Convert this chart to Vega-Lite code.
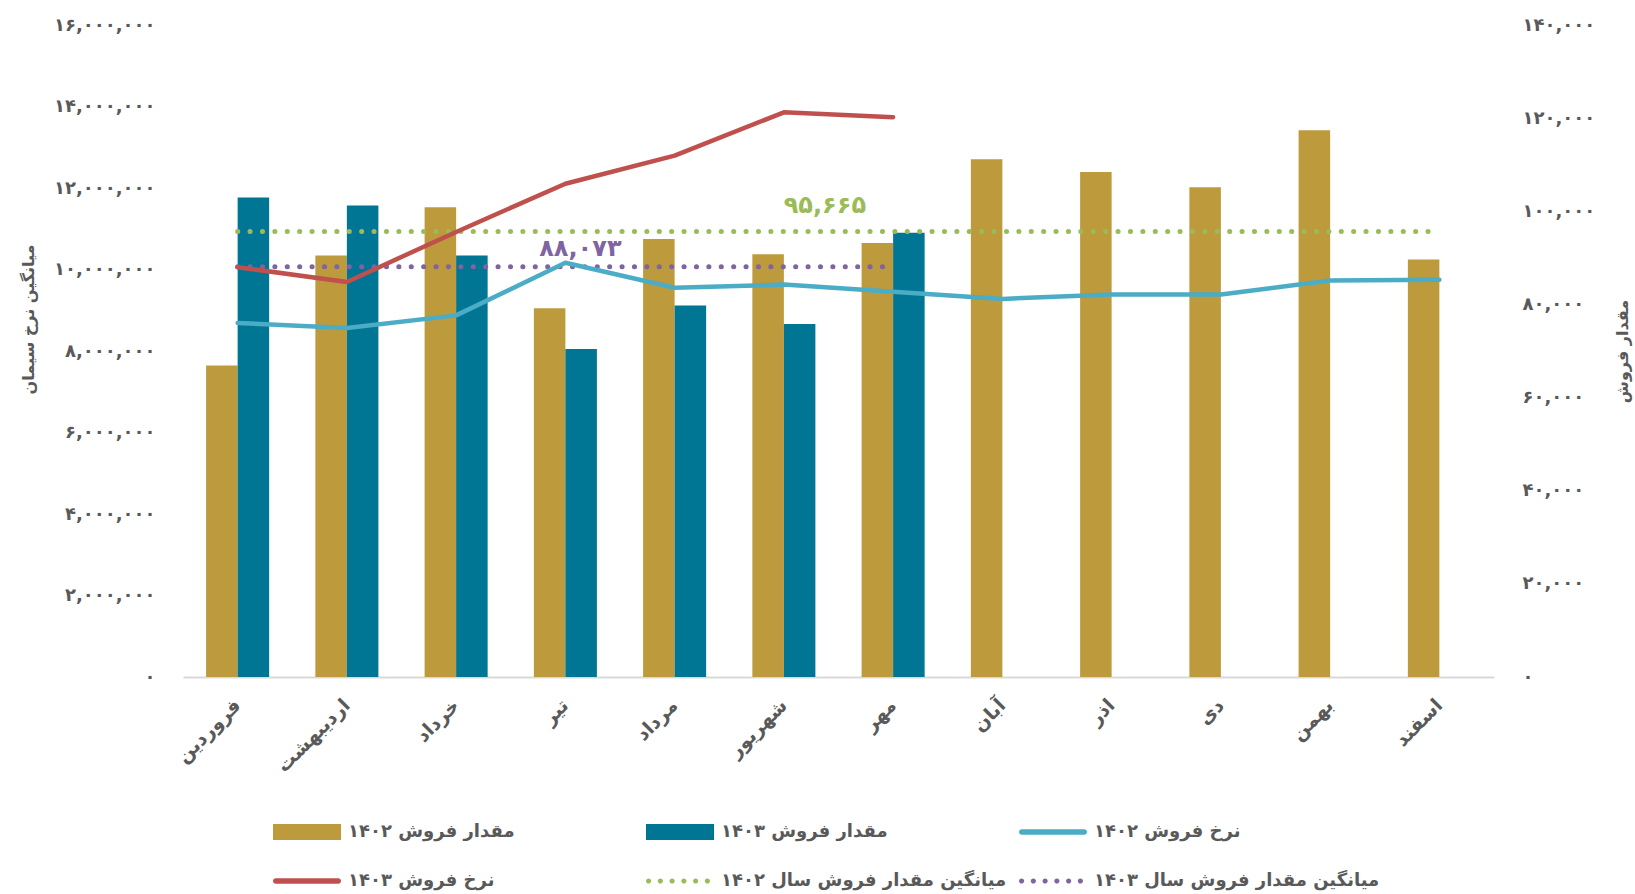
{
  "$schema": "https://vega.github.io/schema/vega-lite/v6.json",
  "width": 1311,
  "height": 652,
  "autosize": {"type": "none"},
  "padding": {"left": 183, "top": 25, "right": 141, "bottom": 217},
  "background": "#ffffff",
  "config": {
    "locale": {"number": {"decimal": ".", "thousands": ",", "grouping": [3], "currency": ["", ""], "numerals": ["۰","۱","۲","۳","۴","۵","۶","۷","۸","۹"]}},
    "view": {"stroke": null},
    "font": "DejaVu Sans",
    "axis": {"labelFont": "DejaVu Sans", "titleFont": "DejaVu Sans", "labelColor": "#595959", "titleColor": "#595959", "grid": false, "ticks": false, "domain": false, "labelFontWeight": "bold", "titleFontWeight": "bold"}
  },
  "datasets": {
    "qty": [
      {"month": "فروردین", "series": "مقدار فروش ۱۴۰۲", "value": 66908},
      {"month": "اردیبهشت", "series": "مقدار فروش ۱۴۰۲", "value": 90489},
      {"month": "خرداد", "series": "مقدار فروش ۱۴۰۲", "value": 100842},
      {"month": "تیر", "series": "مقدار فروش ۱۴۰۲", "value": 79178},
      {"month": "مرداد", "series": "مقدار فروش ۱۴۰۲", "value": 94036},
      {"month": "شهریور", "series": "مقدار فروش ۱۴۰۲", "value": 90777},
      {"month": "مهر", "series": "مقدار فروش ۱۴۰۲", "value": 93173},
      {"month": "آبان", "series": "مقدار فروش ۱۴۰۲", "value": 111194},
      {"month": "اذر", "series": "مقدار فروش ۱۴۰۲", "value": 108414},
      {"month": "دی", "series": "مقدار فروش ۱۴۰۲", "value": 105155},
      {"month": "بهمن", "series": "مقدار فروش ۱۴۰۲", "value": 117425},
      {"month": "اسفند", "series": "مقدار فروش ۱۴۰۲", "value": 89626},
      {"month": "فروردین", "series": "مقدار فروش ۱۴۰۳", "value": 102950},
      {"month": "اردیبهشت", "series": "مقدار فروش ۱۴۰۳", "value": 101225},
      {"month": "خرداد", "series": "مقدار فروش ۱۴۰۳", "value": 90489},
      {"month": "تیر", "series": "مقدار فروش ۱۴۰۳", "value": 70455},
      {"month": "مرداد", "series": "مقدار فروش ۱۴۰۳", "value": 79753},
      {"month": "شهریور", "series": "مقدار فروش ۱۴۰۳", "value": 75823},
      {"month": "مهر", "series": "مقدار فروش ۱۴۰۳", "value": 95378}
    ],
    "rate": [
      {"month": "فروردین", "series": "نرخ فروش ۱۴۰۲", "value": 8687000},
      {"month": "اردیبهشت", "series": "نرخ فروش ۱۴۰۲", "value": 8567000},
      {"month": "خرداد", "series": "نرخ فروش ۱۴۰۲", "value": 8874000},
      {"month": "تیر", "series": "نرخ فروش ۱۴۰۲", "value": 10166000},
      {"month": "مرداد", "series": "نرخ فروش ۱۴۰۲", "value": 9553000},
      {"month": "شهریور", "series": "نرخ فروش ۱۴۰۲", "value": 9629000},
      {"month": "مهر", "series": "نرخ فروش ۱۴۰۲", "value": 9454000},
      {"month": "آبان", "series": "نرخ فروش ۱۴۰۲", "value": 9279000},
      {"month": "اذر", "series": "نرخ فروش ۱۴۰۲", "value": 9388000},
      {"month": "دی", "series": "نرخ فروش ۱۴۰۲", "value": 9388000},
      {"month": "بهمن", "series": "نرخ فروش ۱۴۰۲", "value": 9728000},
      {"month": "اسفند", "series": "نرخ فروش ۱۴۰۲", "value": 9750000},
      {"month": "فروردین", "series": "نرخ فروش ۱۴۰۳", "value": 10057000},
      {"month": "اردیبهشت", "series": "نرخ فروش ۱۴۰۳", "value": 9695000},
      {"month": "خرداد", "series": "نرخ فروش ۱۴۰۳", "value": 10922000},
      {"month": "تیر", "series": "نرخ فروش ۱۴۰۳", "value": 12105000},
      {"month": "مرداد", "series": "نرخ فروش ۱۴۰۳", "value": 12795000},
      {"month": "شهریور", "series": "نرخ فروش ۱۴۰۳", "value": 13858000},
      {"month": "مهر", "series": "نرخ فروش ۱۴۰۳", "value": 13738000}
    ],
    "avg": [
      {"month": "فروردین", "series": "میانگین مقدار فروش سال ۱۴۰۲", "value": 95665},
      {"month": "اسفند", "series": "میانگین مقدار فروش سال ۱۴۰۲", "value": 95665},
      {"month": "فروردین", "series": "میانگین مقدار فروش سال ۱۴۰۳", "value": 88073},
      {"month": "مهر", "series": "میانگین مقدار فروش سال ۱۴۰۳", "value": 88073}
    ]
  },
  "layer": [
    {
      "data": {"name": "qty"},
      "mark": {"type": "bar"},
      "encoding": {
        "x": {"field": "month", "type": "nominal", "sort": ["فروردین","اردیبهشت","خرداد","تیر","مرداد","شهریور","مهر","آبان","اذر","دی","بهمن","اسفند"], "scale": {"paddingInner": 0.423, "paddingOuter": 0.2115},
          "axis": {"title": null, "labelAngle": -45, "labelAlign": "right", "labelBaseline": "middle", "labelPadding": 25, "labelFontSize": 19, "labelLimit": 300, "domain": true, "domainColor": "#D9D9D9", "domainWidth": 2}},
        "xOffset": {"field": "series", "type": "nominal", "sort": ["مقدار فروش ۱۴۰۲", "مقدار فروش ۱۴۰۳"], "scale": {"domain": ["مقدار فروش ۱۴۰۲", "مقدار فروش ۱۴۰۳"], "paddingInner": 0, "paddingOuter": 0}},
        "y": {"field": "value", "type": "quantitative", "scale": {"domain": [0, 140000], "nice": false},
          "axis": {"orient": "right", "title": "مقدار فروش", "values": [0, 20000, 40000, 60000, 80000, 100000, 120000, 140000], "format": ",.0f", "labelFontSize": 18, "labelPadding": 28, "titleFontSize": 16, "titleAngle": -90, "titleBaseline": "top", "titlePadding": 20}},
        "color": {"field": "series", "type": "nominal",
          "scale": {"domain": ["مقدار فروش ۱۴۰۲", "مقدار فروش ۱۴۰۳", "نرخ فروش ۱۴۰۲", "نرخ فروش ۱۴۰۳", "میانگین مقدار فروش سال ۱۴۰۲", "میانگین مقدار فروش سال ۱۴۰۳"], "range": ["#BD9A3B", "#007594", "#4BACC6", "#C0504D", "#9BBB59", "#8064A2"]},
          "legend": {"title": null, "orient": "none", "legendX": 90, "legendY": 797, "direction": "horizontal", "columns": 3, "gridAlign": "all", "symbolSize": 400, "labelFont": "DejaVu Sans", "labelFontSize": 18, "labelFontWeight": "bold", "labelColor": "#595959", "labelOffset": 55, "rowPadding": 30, "columnPadding": 12, "labelLimit": 500,
            "encode": {"symbols": {"update": {
              "shape": {"signal": "datum.index < 2 ? 'M-1,-0.8H5.8V0.8H-1Z' : (datum.index < 4 ? 'M-0.73,-0.27H5.53A0.27,0.27 0 0,1 5.53,0.27H-0.73A0.27,0.27 0 0,1 -0.73,-0.27Z' : 'M-1,0A0.26,0.26 0 1,0 -0.48,0A0.26,0.26 0 1,0 -1,0ZM0.176,0A0.26,0.26 0 1,0 0.696,0A0.26,0.26 0 1,0 0.176,0ZM1.352,0A0.26,0.26 0 1,0 1.872,0A0.26,0.26 0 1,0 1.352,0ZM2.528,0A0.26,0.26 0 1,0 3.048,0A0.26,0.26 0 1,0 2.528,0ZM3.704,0A0.26,0.26 0 1,0 4.224,0A0.26,0.26 0 1,0 3.704,0ZM4.88,0A0.26,0.26 0 1,0 5.4,0A0.26,0.26 0 1,0 4.88,0Z')"},
              "fill": {"scale": "color", "field": "value"},
              "stroke": {"value": "transparent"},
              "strokeWidth": {"value": 0},
              "opacity": {"value": 1}
            }}}}}
      }
    },
    {
      "data": {"name": "avg"},
      "mark": {"type": "line", "strokeWidth": 5, "strokeCap": "round", "strokeDash": [0.1, 12.3]},
      "encoding": {
        "x": {"field": "month", "type": "nominal", "sort": ["فروردین","اردیبهشت","خرداد","تیر","مرداد","شهریور","مهر","آبان","اذر","دی","بهمن","اسفند"],
          "axis": {"title": null, "labelAngle": -45, "labelAlign": "right", "labelBaseline": "middle", "labelPadding": 25, "labelFontSize": 19, "labelLimit": 300, "domain": true, "domainColor": "#D9D9D9", "domainWidth": 2}},
        "y": {"field": "value", "type": "quantitative", "scale": {"domain": [0, 140000], "nice": false}, "axis": null},
        "color": {"field": "series", "type": "nominal"}
      }
    },
    {
      "data": {"values": [{"month": "تیر", "value": 88073}]},
      "mark": {"type": "text", "color": "#8064A2", "fontSize": 24, "fontWeight": "bold", "font": "DejaVu Sans", "dx": 15, "dy": -18},
      "encoding": {
        "x": {"field": "month", "type": "nominal", "sort": ["فروردین","اردیبهشت","خرداد","تیر","مرداد","شهریور","مهر","آبان","اذر","دی","بهمن","اسفند"],
          "axis": {"title": null, "labelAngle": -45, "labelAlign": "right", "labelBaseline": "middle", "labelPadding": 25, "labelFontSize": 19, "labelLimit": 300, "domain": true, "domainColor": "#D9D9D9", "domainWidth": 2}},
        "y": {"field": "value", "type": "quantitative", "scale": {"domain": [0, 140000], "nice": false}, "axis": null},
        "text": {"field": "value", "type": "quantitative", "format": ",.0f"}
      }
    },
    {
      "data": {"values": [{"month": "شهریور", "value": 95665}]},
      "mark": {"type": "text", "color": "#9BBB59", "fontSize": 24, "fontWeight": "bold", "font": "DejaVu Sans", "dx": 41, "dy": -25},
      "encoding": {
        "x": {"field": "month", "type": "nominal", "sort": ["فروردین","اردیبهشت","خرداد","تیر","مرداد","شهریور","مهر","آبان","اذر","دی","بهمن","اسفند"],
          "axis": {"title": null, "labelAngle": -45, "labelAlign": "right", "labelBaseline": "middle", "labelPadding": 25, "labelFontSize": 19, "labelLimit": 300, "domain": true, "domainColor": "#D9D9D9", "domainWidth": 2}},
        "y": {"field": "value", "type": "quantitative", "scale": {"domain": [0, 140000], "nice": false}, "axis": null},
        "text": {"field": "value", "type": "quantitative", "format": ",.0f"}
      }
    },
    {
      "data": {"name": "rate"},
      "mark": {"type": "line", "strokeWidth": 4.5, "strokeCap": "round", "strokeJoin": "round"},
      "encoding": {
        "x": {"field": "month", "type": "nominal", "sort": ["فروردین","اردیبهشت","خرداد","تیر","مرداد","شهریور","مهر","آبان","اذر","دی","بهمن","اسفند"],
          "axis": {"title": null, "labelAngle": -45, "labelAlign": "right", "labelBaseline": "middle", "labelPadding": 25, "labelFontSize": 19, "labelLimit": 300, "domain": true, "domainColor": "#D9D9D9", "domainWidth": 2}},
        "y": {"field": "value", "type": "quantitative", "scale": {"domain": [0, 16000000], "nice": false},
          "axis": {"orient": "left", "title": "میانگین نرخ سیمان", "values": [0, 2000000, 4000000, 6000000, 8000000, 10000000, 12000000, 14000000, 16000000], "format": ",.0f", "labelFontSize": 18, "labelPadding": 28, "titleFontSize": 16, "titlePadding": 17, "titleY": 294}},
        "color": {"field": "series", "type": "nominal"}
      }
    }
  ],
  "resolve": {"scale": {"y": "independent"}}
}
